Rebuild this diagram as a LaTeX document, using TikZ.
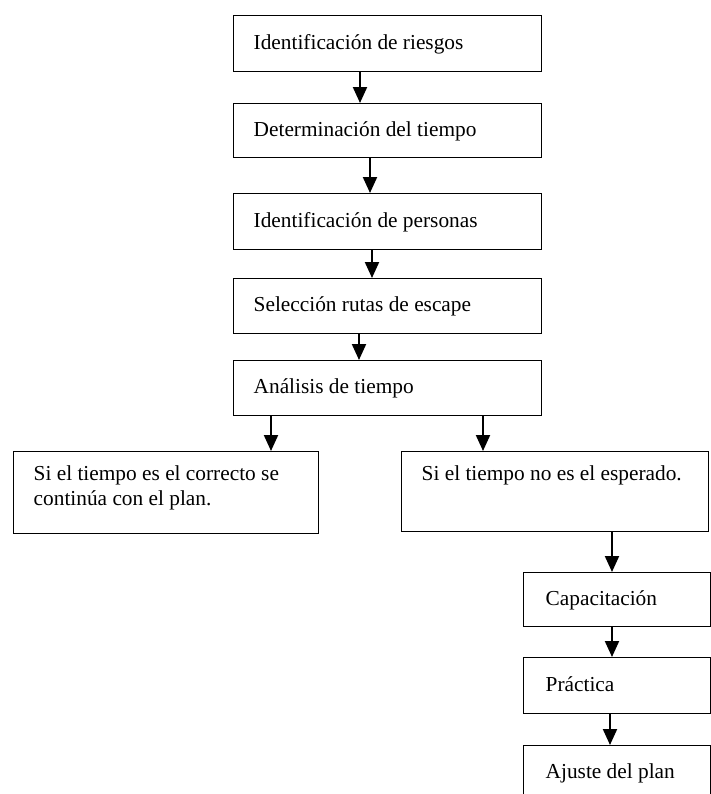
\documentclass[tikz,border=0pt]{standalone}
\usepackage{fontspec}
\setmainfont{Liberation Serif}
\usetikzlibrary{arrows.meta,calc}
\hyphenpenalty=10000
\begin{document}
\begin{tikzpicture}[x=0.75pt,y=-0.75pt,
  box/.style={draw, line width=1.05pt, anchor=north west, inner xsep=15pt, inner ysep=0pt,
    align=flush left, font=\fontsize{16}{18.4}\selectfont, text height=11.5pt, text depth=3.5pt},
  topbox/.style={box, text height=21.75pt},
  smallbox/.style={box, inner xsep=16.5pt, text width=107.25pt},
  arr/.style={line width=1.55pt, -{Triangle[length=12pt,width=10.5pt]}}]
\useasboundingbox (0,0) rectangle (711,794);
\clip (0,0) rectangle (711,794);
\node[box, text width=201pt, minimum height=42pt] (b1) at (233,15) {Identificación de riesgos};
\node[box, text width=201pt, minimum height=40.5pt] (b2) at (233,103) {Determinación del tiempo};
\node[box, text width=201pt, minimum height=42pt] (b3) at (233,193) {Identificación de personas};
\node[box, text width=201pt, minimum height=41.25pt] (b4) at (233,278) {Selección rutas de escape};
\node[box, text width=201pt, minimum height=41.25pt] (b5) at (233,360) {Análisis de tiempo};
\node[topbox, text width=198.75pt, text depth=39.75pt] (bl) at (13,451) {Si el tiempo es el correcto se\\continúa con el plan.};
\node[topbox, text width=200.25pt, text depth=38.25pt] (br) at (401,451) {Si el tiempo no es el esperado.};
\node[smallbox, minimum height=40.5pt] (cap) at (523,572) {Capacitación};
\node[smallbox, minimum height=42pt] (pra) at (523,657) {Práctica};
\node[smallbox, minimum height=40.5pt] (aju) at (523,745) {Ajuste del plan};
\draw[arr] ($(b1.south west)+(127,0)$) -- ($(b2.north west)+(127,0)$);
\draw[arr] ($(b2.south west)+(137,0)$) -- ($(b3.north west)+(137,0)$);
\draw[arr] ($(b3.south west)+(139,0)$) -- ($(b4.north west)+(139,0)$);
\draw[arr] ($(b4.south west)+(126,0)$) -- ($(b5.north west)+(126,0)$);
\draw[arr] ($(b5.south west)+(38,0)$) -- ($(bl.north west)+(258,0)$);
\draw[arr] ($(b5.south west)+(250,0)$) -- ($(br.north west)+(82,0)$);
\draw[arr] ($(br.south west)+(211,0)$) -- ($(cap.north west)+(89,0)$);
\draw[arr] ($(cap.south west)+(89,0)$) -- ($(pra.north west)+(89,0)$);
\draw[arr] ($(pra.south west)+(87,0)$) -- ($(aju.north west)+(87,0)$);
\end{tikzpicture}
\end{document}
